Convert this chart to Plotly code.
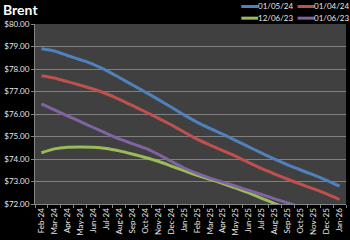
import plotly.graph_objects as go

months = ["Feb-24", "Mar-24", "Apr-24", "May-24", "Jun-24", "Jul-24", "Aug-24", "Sep-24",
          "Oct-24", "Nov-24", "Dec-24", "Jan-25", "Feb-25", "Mar-25", "Apr-25", "May-25",
          "Jun-25", "Jul-25", "Aug-25", "Sep-25", "Oct-25", "Nov-25", "Dec-25", "Jan-26"]

s_0105 = [78.90, 78.80, 78.60, 78.41, 78.21, 77.94, 77.62, 77.30, 76.98, 76.65, 76.31, 75.96,
          75.64, 75.36, 75.10, 74.82, 74.54, 74.26, 73.99, 73.74, 73.51, 73.29, 73.05, 72.79]
s_0104 = [77.70, 77.60, 77.44, 77.28, 77.11, 76.90, 76.65, 76.38, 76.10, 75.82, 75.52, 75.20,
          74.88, 74.62, 74.37, 74.12, 73.84, 73.57, 73.33, 73.10, 72.88, 72.67, 72.45, 72.20]
s_1206 = [74.28, 74.45, 74.52, 74.53, 74.52, 74.47, 74.36, 74.22, 74.07, 73.90, 73.69, 73.48,
          73.28, 73.10, 72.91, 72.71, 72.49, 72.25, 72.02, 71.80, 71.60, 71.40, 71.20, 71.00]
s_0106 = [76.45, 76.18, 75.92, 75.66, 75.40, 75.14, 74.89, 74.68, 74.48, 74.21, 73.90, 73.60,
          73.36, 73.15, 72.97, 72.79, 72.60, 72.42, 72.23, 72.05, 71.85, 71.65, 71.45, 71.25]

names = ["01/05/24", "01/04/24", "12/06/23", "01/06/23"]
series = [s_0105, s_0104, s_1206, s_0106]
colors = ["#4F81BD", "#C0504D", "#9BBB59", "#8064A2"]

FONT = "Lato, 'Open Sans', sans-serif"

fig = go.Figure()
for nm, vals, col in zip(names, series, colors):
    fig.add_trace(go.Scatter(x=months, y=vals, name=nm, mode="lines",
                             line=dict(color=col, width=3, shape="spline", smoothing=0.6),
                             showlegend=False))

# manual legend (2 x 2) in the top margin
W, T, B = 315.0, 24.0, 209.0
def px_x(X):
    return (X - 31.0) / W
def px_y(Y):
    return (B - Y) / (B - T)

leg_pos = [(240, 6), (297, 6), (240, 18), (297, 18)]
shapes = []
annotations = []
for (lx, ly), nm, col in zip(leg_pos, names, colors):
    shapes.append(dict(type="line", xref="paper", yref="paper",
                       x0=px_x(lx), x1=px_x(lx + 17), y0=px_y(ly), y1=px_y(ly),
                       line=dict(color=col, width=3)))
    annotations.append(dict(xref="paper", yref="paper", x=px_x(lx + 16), y=px_y(ly),
                            xanchor="left", yanchor="middle", text=nm, showarrow=False,
                            borderpad=0,
                            font=dict(family=FONT, size=8, color="#e6e6e6")))

fig.update_layout(
    width=350, height=240,
    margin=dict(l=31, r=4, t=24, b=31),
    paper_bgcolor="#000000",
    plot_bgcolor="#404040",
    font=dict(family=FONT, size=8, color="#e6e6e6"),
    title=dict(text="<b>Brent</b>", x=3 / 350, xref="container", xanchor="left",
               y=1 - 10 / 240, yref="container", yanchor="middle",
               font=dict(family=FONT, size=14, color="#ffffff")),
    shapes=shapes,
    annotations=annotations,
    xaxis=dict(type="category", range=[-0.5, 23.5], showgrid=False,
               tickson="boundaries", ticks="outside", ticklen=3, tickcolor="#868686",
               showline=True, linecolor="#868686", linewidth=1,
               tickangle=-90, tickfont=dict(size=8, color="#e6e6e6"), zeroline=False),
    yaxis=dict(range=[72, 80], dtick=1, tickformat="$.2f",
               showgrid=True, gridcolor="#808080", gridwidth=1,
               ticks="outside", ticklen=3, tickcolor="#868686",
               showline=True, linecolor="#868686", linewidth=1,
               tickfont=dict(size=8, color="#e6e6e6"), zeroline=False),
)

fig.write_html("out.html")
